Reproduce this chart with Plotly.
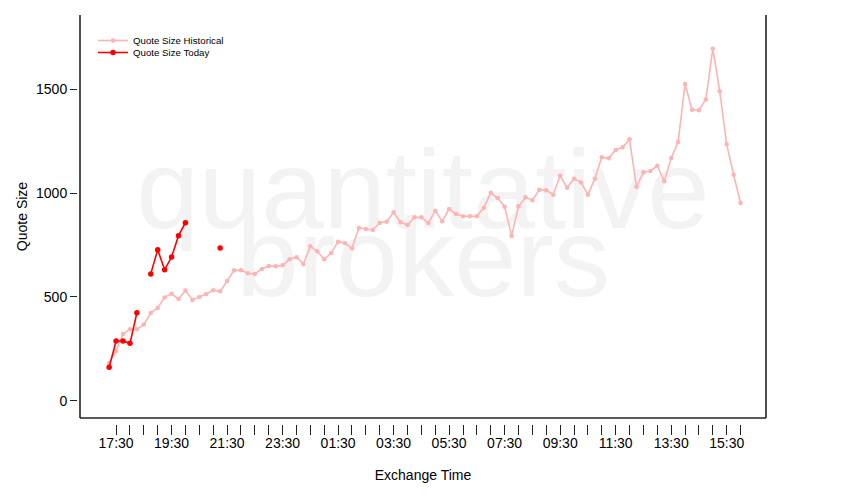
import pandas as pd
import plotly.graph_objects as go

# ---- data ----
hist_start = "2024-01-01 17:15"
hist_values = [183, 240, 322, 345, 345, 368, 423, 447, 498, 516, 490, 531, 486, 500, 514,
               532, 527, 577, 628, 628, 614, 611, 635, 649, 648, 652, 681, 691, 659, 744,
               720, 681, 712, 766, 758, 734, 832, 827, 822, 857, 862, 907, 859, 846, 883,
               883, 856, 915, 864, 923, 899, 888, 888, 888, 929, 1001, 976, 934, 793, 936,
               979, 965, 1016, 1013, 992, 1083, 1025, 1069, 1051, 992, 1069, 1172, 1167, 1207, 1220,
               1258, 1030, 1100, 1106, 1131, 1056, 1168, 1245, 1524, 1400, 1398, 1450, 1694, 1489, 1234,
               1088, 952]
today_values = [162, 288, 288, 277, 424, None, 611, 727, 631, 692, 795, 857,
                None, None, None, None, 736]
y_tick_vals = [0, 500, 1000, 1500]
x_tick_start = "2024-01-01 17:30"
x_tick_end = "2024-01-02 16:00"
label_every = 4
watermark_lines = ["quantitative", "brokers"]

hist_times = pd.date_range(hist_start, periods=len(hist_values), freq="15min")
today_times = pd.date_range(hist_start, periods=len(today_values), freq="15min")
tick_times = pd.date_range(x_tick_start, x_tick_end, freq="30min")
tick_text = [t.strftime("%H:%M") if i % label_every == 0 else "" for i, t in enumerate(tick_times)]

# page body has an 8px margin; size the figure so it ends at the window edge
W, H = 842, 492
ML, MR, MT, MB = 69, 84, 7, 76
pw = W - ML - MR
ph = H - MT - MB
x_dom0 = (72 - ML) / pw
y_dom0 = 6 / ph
x_range = [pd.Timestamp("2024-01-01 16:12"), pd.Timestamp("2024-01-02 16:55")]
y_range = [-82, 1856]
x_mid = x_range[0] + (x_range[1] - x_range[0]) / 2

FONT = "Liberation Sans, Arial, Helvetica, sans-serif"

fig = go.Figure()
# watermark (drawn first so it sits beneath the data)
fig.add_trace(go.Scatter(
    x=[x_mid, x_mid], y=[964, 640], mode="text", text=watermark_lines,
    textposition="middle center", showlegend=False, hoverinfo="skip",
    textfont=dict(family=FONT, size=112, color="#F3F3F3"), cliponaxis=False,
))
fig.add_trace(go.Scatter(
    x=hist_times, y=hist_values, mode="lines+markers", name="Quote Size Historical",
    line=dict(color="#FFB3B3", width=1.6), marker=dict(color="#FFB3B3", size=4.5),
    legend="legend",
))
fig.add_trace(go.Scatter(
    x=today_times, y=today_values, mode="lines+markers", name="Quote Size Today",
    line=dict(color="#FF0000", width=1.6), marker=dict(color="#FF0000", size=5.5),
    connectgaps=False, legend="legend2",
))

# box lines (left, bottom, right)
box = dict(color="#222222", width=1.6)
fig.add_shape(type="line", xref="x domain", yref="y domain", x0=0, x1=0, y0=0, y1=1, line=box)
fig.add_shape(type="line", xref="x domain", yref="y domain", x0=0, x1=1, y0=0, y1=0, line=box)
fig.add_shape(type="line", xref="x domain", yref="y domain", x0=1, x1=1, y0=0, y1=1, line=box)

leg_common = dict(xanchor="left", yanchor="top", bgcolor="rgba(0,0,0,0)",
                  font=dict(size=9.7, family=FONT), itemwidth=30)
lx = (85 - ML) / pw
fig.update_layout(
    width=W, height=H,
    margin=dict(l=ML, r=MR, t=MT, b=MB, pad=0),
    paper_bgcolor="white", plot_bgcolor="white",
    font=dict(family=FONT, size=14, color="black"),
    showlegend=True,
    legend=dict(x=lx, y=(416 - 18) / ph, **leg_common),
    legend2=dict(x=lx, y=(416 - 30) / ph, **leg_common),
    xaxis=dict(
        domain=[x_dom0, 1], anchor="free", position=0,
        range=x_range,
        tickmode="array", tickvals=tick_times, ticktext=tick_text,
        ticks="outside", ticklen=10, tickcolor="#222222", tickwidth=1,
        ticklabelstandoff=-4,
        showgrid=False, zeroline=False, showline=False,
        title=dict(text="Exchange Time", standoff=20, font=dict(size=14)),
        tickfont=dict(size=14),
    ),
    yaxis=dict(
        domain=[y_dom0, 1], anchor="free", position=0,
        range=y_range,
        tickmode="array", tickvals=y_tick_vals,
        ticks="outside", ticklen=7, tickcolor="#222222", tickwidth=1,
        showgrid=False, zeroline=False, showline=False,
        title=dict(text="Quote Size", standoff=4, font=dict(size=14)),
        tickfont=dict(size=14),
    ),
)

fig.write_html("out.html")
